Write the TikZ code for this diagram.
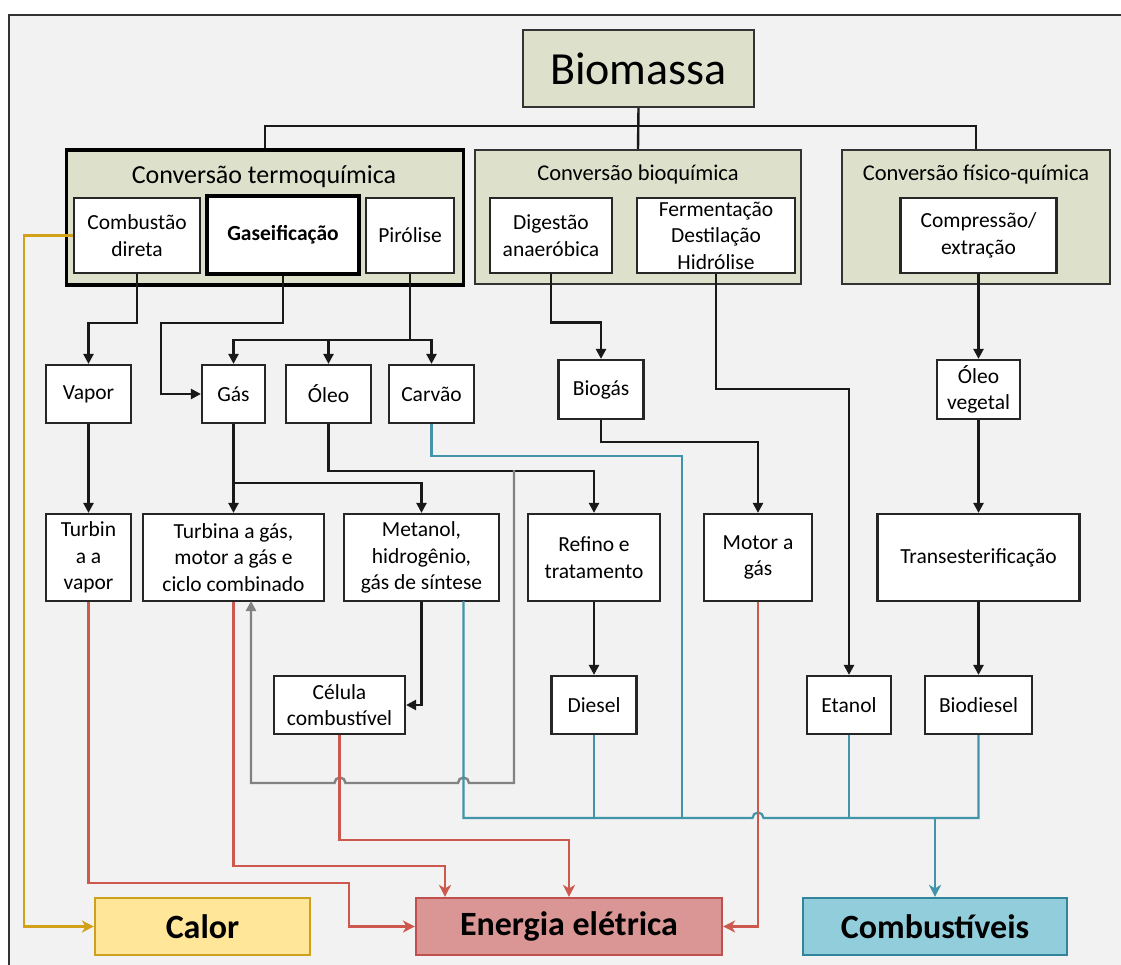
\documentclass[tikz,border=0pt]{standalone}
\usepackage{fontspec}
\setmainfont{Carlito}
\usetikzlibrary{arrows.meta}
\definecolor{bgc}{RGB}{242,242,242}
\definecolor{grpc}{RGB}{221,225,204}
\definecolor{redl}{RGB}{205,88,78}
\definecolor{tealr}{RGB}{66,148,170}
\definecolor{goldl}{RGB}{210,160,25}
\definecolor{grayl}{RGB}{130,130,130}
\definecolor{enerf}{RGB}{217,150,148}
\definecolor{enerd}{RGB}{192,80,77}
\definecolor{calf}{RGB}{255,230,153}
\definecolor{cald}{RGB}{205,160,30}
\definecolor{combf}{RGB}{146,205,220}
\definecolor{combd}{RGB}{49,132,155}
\begin{document}
\begin{tikzpicture}[x=1pt,y=-1pt,
  txt/.style={font=\fontsize{21.5}{26.5}\selectfont},
  box/.style={draw=black!85, fill=white, line width=2.2pt, align=center, inner sep=0pt, txt},
  grp/.style={draw=black!80, fill=grpc, line width=2.2pt, inner sep=0pt},
  big/.style={draw, line width=2.2pt, align=center, inner sep=0pt, minimum height=57pt, font=\fontsize{34}{40}\selectfont\bfseries},
  conn/.style={line width=2.4pt, black!90},
  arr/.style={conn, -{Triangle[width=10pt,length=10pt]}},
  carr/.style={line width=2.2pt, -{Stealth[width=12pt,length=12pt,inset=3.5pt]}},
  cl/.style={line width=2.2pt}
]
\useasboundingbox (0,0) rectangle (1121,965);
\fill[white] (0,0) rectangle (1121,965);
\draw[fill=bgc, draw=black!80, line width=2.2pt] (9,15) rectangle (1130,975);

% top
\node[grp, minimum width=231pt, minimum height=77pt, font=\fontsize{46}{50}\selectfont] (bio) at (638.5,68.5) {Biomassa};

% groups
\node[grp, line width=3.8pt, draw=black, minimum width=397pt, minimum height=135pt] (gT) at (265,217.5) {};
\node[grp, minimum width=326pt, minimum height=134pt] (gB) at (638,217) {};
\node[grp, minimum width=268pt, minimum height=134pt] (gF) at (976,217) {};
\node[font=\fontsize{26}{30}\selectfont] (tT) at (264,177) {Conversão termoquímica};
\node[font=\fontsize{22.5}{27}\selectfont] (tB) at (638,175) {Conversão bioquímica};
\node[font=\fontsize{22.5}{27}\selectfont] (tF) at (976,175) {Conversão físico-química};

\node[box, minimum width=126pt, minimum height=75pt] (cd) at (137,235.5) {Combustão\\direta};
\node[box, line width=3.8pt, draw=black, minimum width=152pt, minimum height=78pt, font=\fontsize{21.5}{26.5}\selectfont\bfseries] (gsf) at (283,235) {Gaseificação};
\node[box, minimum width=88pt, minimum height=75pt] (pir) at (410,235.5) {Pirólise};
\node[box, minimum width=122pt, minimum height=75pt] (dig) at (551,235.5) {Digestão\\anaeróbica};
\node[box, minimum width=158pt, minimum height=75pt] (fer) at (716,235.5) {Fermentação\\Destilação\\Hidrólise};
\node[box, minimum width=156pt, minimum height=75pt] (comp) at (978.5,235.5) {Compressão/\\extração};

% level 2
\node[box, minimum width=85pt, minimum height=58pt] (vapor) at (88.5,394) {Vapor};
\node[box, minimum width=63pt, minimum height=58pt] (gas) at (233.5,394) {Gás};
\node[box, minimum width=85pt, minimum height=58pt] (oleo) at (328.5,394) {Óleo};
\node[box, minimum width=85pt, minimum height=58pt] (carvao) at (431.5,394) {Carvão};
\node[box, minimum width=85pt, minimum height=59pt] (biogas) at (601,389.5) {Biogás};
\node[box, minimum width=83pt, minimum height=59pt] (olveg) at (978.5,389.5) {Óleo\\vegetal};

% level 3
\node[box, minimum width=85pt, minimum height=87pt] (tv) at (88.5,557.5) {Turbin\\a a\\vapor};
\node[box, minimum width=181pt, minimum height=87pt] (tg) at (233.5,557.5) {Turbina a gás,\\motor a gás e\\ciclo combinado};
\node[box, minimum width=155pt, minimum height=87pt] (met) at (421.5,557.5) {Metanol,\\hidrogênio,\\gás de síntese};
\node[box, minimum width=132pt, minimum height=87pt] (ref) at (594,557.5) {Refino e\\tratamento};
\node[box, minimum width=108pt, minimum height=87pt] (mot) at (758,557.5) {Motor a\\gás};
\node[box, minimum width=202pt, minimum height=87pt] (trans) at (978.5,557.5) {Transesterificação};

% level 4
\node[box, minimum width=131pt, minimum height=58pt] (cel) at (339.5,705) {Célula\\combustível};
\node[box, minimum width=85pt, minimum height=58pt] (die) at (594,705) {Diesel};
\node[box, minimum width=84pt, minimum height=58pt] (eta) at (849,705) {Etanol};
\node[box, minimum width=107pt, minimum height=58pt] (bd) at (978.5,705) {Biodiesel};

% bottom
\node[big, fill=calf, draw=cald, minimum width=215pt] (calor) at (202.5,926.5) {Calor};
\node[big, fill=enerf, draw=enerd, minimum width=306pt] (ener) at (569,926.5) {Energia elétrica};
\node[big, fill=combf, draw=combd, minimum width=264pt] (comb) at (935,926.5) {Combustíveis};

% coordinates
\coordinate (gj) at (514,470);
\coordinate (tgin) at (251,601);
\coordinate (mett) at (463.5,601);
\coordinate (bus) at (935,818);

% black connectors
\draw[conn] (bio.south) -- (gB.north);
\draw[conn] (gT.north) -- ++(0,-22) -| (gF.north);
\draw[arr] (cd.south) |- (88.5,323) -- (vapor.north);
\draw[arr] (gsf.south) |- (161,323) |- (gas.west);
\draw[arr] (pir.south) |- (gas.north |- 0,340) -- (gas.north);
\draw[arr] (gas.north |- 0,340) -| (carvao.north);
\draw[arr] (oleo.north |- 0,340) -- (oleo.north);
\draw[arr] (vapor) -- (tv);
\draw[arr] (gas) -- (tg);
\draw[arr] (gas.south |- 0,483) -| (met.north);
\draw[arr] (oleo.south) -- ++(0,47) -| (ref.north);
\draw[arr] (dig.south) -- ++(0,48.5) -| (biogas.north);
\draw[arr] (fer.south) -- ++(0,115) -| (eta.north);
\draw[arr] (biogas.south) -- ++(0,22) -| (mot.north);
\draw[arr] (comp) -- (olveg);
\draw[arr] (olveg) -- (trans);
\draw[arr] (trans) -- (bd);
\draw[arr] (ref) -- (die);
\draw[arr] (met.south) |- (cel.east);

% gray feedback with jumps
\draw[line width=2.4pt, grayl, -{Triangle[width=10pt,length=10pt]}] (gj) -- (514,783) -- (469,783) arc[start angle=0, end angle=180, radius=5.5pt] -- (345.5,783) arc[start angle=0, end angle=180, radius=5.5pt] -- (251,783) -- (tgin);

% teal
\draw[cl, tealr] (carvao.south) -- ++(0,32) -| (682,818);
\draw[cl, tealr] (mett) |- (752.5,818) arc[start angle=180, end angle=0, radius=5.5pt] -- (bd.south |- 0,818) -- (bd.south);
\draw[cl, tealr] (die.south) -- (die.south |- bus);
\draw[cl, tealr] (eta.south) -- (eta.south |- bus);
\draw[carr, tealr] (bus) -- (comb.north);

% red
\draw[carr, redl] (tv.south) |- (349,883) |- (ener.west);
\draw[carr, redl] (tg.south) |- (445,866) -- (ener.north -| 445,0);
\draw[carr, redl] (cel.south) |- (ener.north |- 0,840) -- (ener.north);
\draw[carr, redl] (mot.south) |- (ener.east);

% gold
\draw[carr, goldl] (cd.west) -| (calor.west -| 24,0) -- (calor.west);
\end{tikzpicture}
\end{document}
